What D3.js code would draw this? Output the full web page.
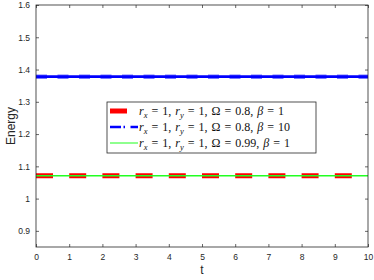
<!DOCTYPE html>
<html><head><meta charset="utf-8">
<script src="https://cdn.jsdelivr.net/npm/d3@7"></script>
<style>body{margin:0;background:#fff}svg{display:block}</style>
</head><body>
<script>
const tValues = [0, 1, 2, 3, 4, 5, 6, 7, 8, 9, 10];
const energyA = [1.071, 1.071, 1.071, 1.071, 1.071, 1.071, 1.071, 1.071, 1.071, 1.071, 1.071];
const energyB = [1.378, 1.378, 1.378, 1.378, 1.378, 1.378, 1.378, 1.378, 1.378, 1.378, 1.378];
const energyC = [1.071, 1.071, 1.071, 1.071, 1.071, 1.071, 1.071, 1.071, 1.071, 1.071, 1.071];
const xTicks = [0, 1, 2, 3, 4, 5, 6, 7, 8, 9, 10];
const yTicks = [0.9, 1, 1.1, 1.2, 1.3, 1.4, 1.5, 1.6];
const legendLabels = [
  ["r","x","1","r","y","1","0.8","1"],
  ["r","x","1","r","y","1","0.8","10"],
  ["r","x","1","r","y","1","0.99","1"]
];

const W = 374, H = 280;
const m = {l: 36, r: 6, t: 5, b: 33};
const svg = d3.select("body").append("svg").attr("width", W).attr("height", H);
const x = d3.scaleLinear().domain([0, 10]).range([m.l, W - m.r]);
const y = d3.scaleLinear().domain([0.85, 1.6]).range([H - m.b, m.t]);
const axisCol = "#262626";

const line = d3.line().x((d, i) => x(tValues[i])).y(d => y(d));
const g = svg.append("g");
g.append("path").attr("d", line(energyB)).attr("fill", "none")
  .attr("stroke", "#7a7aff").attr("stroke-width", 4.5).attr("stroke-dasharray", "11,10.5");
g.append("path").attr("d", line(energyB)).attr("fill", "none")
  .attr("stroke", "#0000ff").attr("stroke-width", 2.6);
g.append("path").attr("d", line(energyA)).attr("fill", "none")
  .attr("stroke", "#ff0000").attr("stroke-width", 5).attr("stroke-dasharray", "17,16.2");
g.append("path").attr("d", line(energyC)).attr("fill", "none")
  .attr("stroke", "#22ff22").attr("stroke-width", 1.4);

const fs = 8.5;
svg.append("rect").attr("x", m.l).attr("y", m.t).attr("width", W - m.r - m.l).attr("height", H - m.b - m.t)
  .attr("fill", "none").attr("stroke", axisCol).attr("stroke-width", 0.8);
const axB = svg.append("g").attr("transform", `translate(0,${H - m.b})`)
  .call(d3.axisBottom(x).tickValues(xTicks).tickSize(-3).tickPadding(7).tickFormat(d3.format("d")));
const axT = svg.append("g").attr("transform", `translate(0,${m.t})`)
  .call(d3.axisTop(x).tickValues(xTicks).tickSize(-3).tickFormat(""));
const axL = svg.append("g").attr("transform", `translate(${m.l},0)`)
  .call(d3.axisLeft(y).tickValues(yTicks).tickSize(-3).tickPadding(6).tickFormat(d => String(+d.toFixed(1))));
const axR = svg.append("g").attr("transform", `translate(${W - m.r},0)`)
  .call(d3.axisRight(y).tickValues(yTicks).tickSize(-3).tickFormat(""));
[axB, axT, axL, axR].forEach(a => {
  a.select(".domain").remove();
  a.selectAll("line").attr("stroke", axisCol).attr("stroke-width", 0.7);
  a.selectAll("text").attr("fill", axisCol).attr("font-family", "Liberation Sans, Arial, sans-serif").attr("font-size", fs);
});

svg.append("text").attr("x", (m.l + W - m.r) / 2).attr("y", 274).attr("text-anchor", "middle")
  .attr("font-family", "Liberation Sans, Arial, sans-serif").attr("font-size", 12).attr("fill", axisCol).text("t");
svg.append("text").attr("transform", `translate(15,${y(1.225)}) rotate(-90)`).attr("text-anchor", "middle")
  .attr("font-family", "Liberation Sans, Arial, sans-serif").attr("font-size", 12).attr("fill", axisCol).text("Energy");

const lg = svg.append("g");
lg.append("rect").attr("x", 107).attr("y", 102).attr("width", 209).attr("height", 51)
  .attr("fill", "#fff").attr("stroke", axisCol).attr("stroke-width", 0.8);
const rowY = [111, 127, 143];
lg.append("line").attr("x1", 110).attr("x2", 127).attr("y1", rowY[0]).attr("y2", rowY[0])
  .attr("stroke", "#ff0000").attr("stroke-width", 5);
lg.append("line").attr("x1", 110).attr("x2", 138).attr("y1", rowY[1]).attr("y2", rowY[1])
  .attr("stroke", "#0000ff").attr("stroke-width", 2.5).attr("stroke-dasharray", "11,2.5,1.5,5.5,11");
lg.append("line").attr("x1", 110).attr("x2", 138).attr("y1", rowY[2]).attr("y2", rowY[2])
  .attr("stroke", "#44ff44").attr("stroke-width", 1.2);
const serif = "Liberation Serif, Times New Roman, serif";
const EQ = "\u2004=\u2004", CM = ",\u2004";
legendLabels.forEach((L, i) => {
  const t = lg.append("text").attr("x", 139).attr("y", rowY[i] + 4)
    .attr("font-family", serif).attr("font-size", 12).attr("fill", "#111");
  t.append("tspan").attr("font-style", "italic").text(L[0]);
  t.append("tspan").attr("font-style", "italic").attr("font-size", 8.5).attr("dy", 2.5).text(L[1]);
  t.append("tspan").attr("dy", -2.5).text(EQ + L[2] + CM);
  t.append("tspan").attr("font-style", "italic").text(L[3]);
  t.append("tspan").attr("font-style", "italic").attr("font-size", 8.5).attr("dy", 2.5).text(L[4]);
  t.append("tspan").attr("dy", -2.5).text(EQ + L[5] + CM + "Ω" + EQ + L[6] + CM);
  t.append("tspan").attr("font-style", "italic").text("β");
  t.append("tspan").text(EQ + L[7]);
});
</script>
</body></html>
